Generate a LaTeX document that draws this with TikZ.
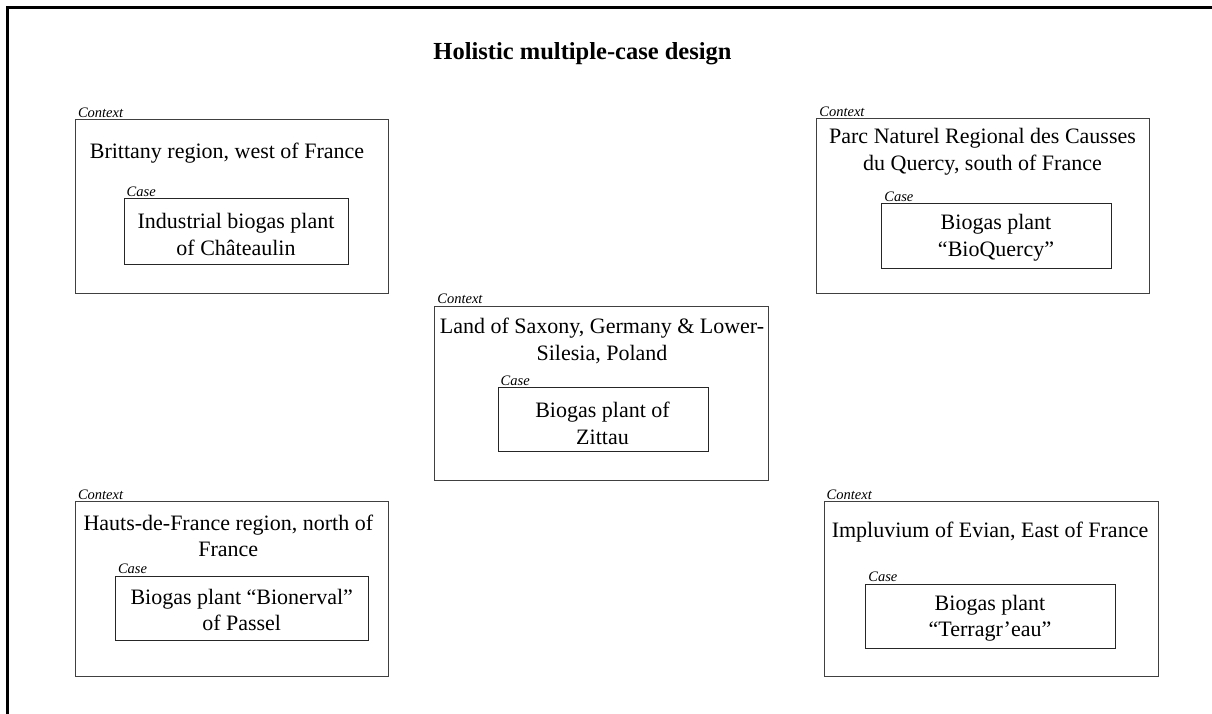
\documentclass[tikz,border=0pt]{standalone}
\usepackage{fontspec}
\setmainfont{Liberation Serif}
\begin{document}
\begin{tikzpicture}[x=1pt,y=-1pt,
  ctxbox/.style={draw=black!75,line width=1pt,rectangle,anchor=north west,inner sep=0pt,outer sep=0pt},
  casebox/.style={draw=black!85,line width=1pt,rectangle,anchor=north west,inner sep=0pt,outer sep=0pt},
  maintext/.style={align=center,inner sep=0pt,font=\fontsize{22}{26.3}\selectfont},
  smalllabel/.style={anchor=base west,inner sep=0pt,font=\fontsize{14.5}{16}\selectfont\itshape},
  titletext/.style={anchor=base,inner sep=0pt,font=\fontsize{24.5}{28}\selectfont\bfseries},
  frameline/.style={line width=2.5pt,black}]
\useasboundingbox (0,0) rectangle (1212,714);
% outer frame (top and left edges)
\coordinate (fTL) at (7.5,7.5);
\coordinate (fTR) at (1214,7.5);
\coordinate (fBL) at (7.5,716);
\draw[frameline] (fTR) -- (fTL) -- (fBL);
% title
\node[titletext] (title) at (582.5,60) {Holistic multiple-case design};
% box 1
\node[ctxbox,minimum width=312.7pt,minimum height=173pt] (ctx1) at (75.3,120) {};
\node[casebox,minimum width=224pt,minimum height=65pt] (case1) at (124,199) {};
\node[smalllabel] (ctxl1) at ([xshift=2.5pt,yshift=2.7pt]ctx1.north west) {Context};
\node[smalllabel] (casel1) at ([xshift=2.5pt,yshift=2.7pt]case1.north west) {Case};
\node[maintext] (t1) at (227,153) {Brittany region, west of France};
\node[maintext] (ct1) at (236,234.5) {Industrial biogas plant\\of Châteaulin};
% box 2
\node[ctxbox,minimum width=332.6pt,minimum height=174pt] (ctx2) at (816.7,119) {};
\node[casebox,minimum width=230pt,minimum height=64.6pt] (case2) at (881.7,203.7) {};
\node[smalllabel] (ctxl2) at ([xshift=2.5pt,yshift=2.7pt]ctx2.north west) {Context};
\node[smalllabel] (casel2) at ([xshift=2.5pt,yshift=2.7pt]case2.north west) {Case};
\node[maintext] (t2) at (982.5,151.8) {Parc Naturel Regional des Causses\\du Quercy, south of France};
\node[maintext] (ct2) at (996,237.7) {Biogas plant\\“BioQuercy”};
% box 3
\node[ctxbox,minimum width=334pt,minimum height=174pt] (ctx3) at (434.7,306) {};
\node[casebox,minimum width=210.7pt,minimum height=64pt] (case3) at (498,387.7) {};
\node[smalllabel] (ctxl3) at ([xshift=2.5pt,yshift=2.7pt]ctx3.north west) {Context};
\node[smalllabel] (casel3) at ([xshift=2.5pt,yshift=2.7pt]case3.north west) {Case};
\node[maintext] (t3) at (602,340.9) {Land of Saxony, Germany \& Lower-\\Silesia, Poland};
\node[maintext] (ct3) at (602.5,423.3) {Biogas plant of\\Zittau};
% box 4
\node[ctxbox,minimum width=313pt,minimum height=175pt] (ctx4) at (75.3,501.7) {};
\node[casebox,minimum width=253pt,minimum height=64.7pt] (case4) at (115.3,576) {};
\node[smalllabel] (ctxl4) at ([xshift=2.5pt,yshift=2.7pt]ctx4.north west) {Context};
\node[smalllabel] (casel4) at ([xshift=2.5pt,yshift=2.7pt]case4.north west) {Case};
\node[maintext] (t4) at (228.3,535.7) {Hauts-de-France region, north of\\France};
\node[maintext] (ct4) at (241.7,610.2) {Biogas plant “Bionerval”\\of Passel};
% box 5
\node[ctxbox,minimum width=334.3pt,minimum height=175pt] (ctx5) at (824,501.7) {};
\node[casebox,minimum width=250pt,minimum height=64pt] (case5) at (865.7,584.3) {};
\node[smalllabel] (ctxl5) at ([xshift=2.5pt,yshift=2.7pt]ctx5.north west) {Context};
\node[smalllabel] (casel5) at ([xshift=2.5pt,yshift=2.7pt]case5.north west) {Case};
\node[maintext] (t5) at (990,532) {Impluvium of Evian, East of France};
\node[maintext] (ct5) at (990,618.5) {Biogas plant\\“Terragr’eau”};
\end{tikzpicture}
\end{document}
